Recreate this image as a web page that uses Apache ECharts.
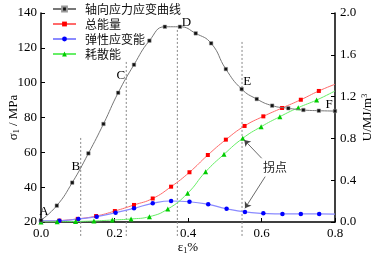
<!DOCTYPE html>
<html>
<head>
<meta charset="utf-8">
<script src="https://cdn.jsdelivr.net/npm/echarts@6/dist/echarts.min.js"></script>
<style>
  html, body { margin: 0; padding: 0; background: #fff; }
  #chart { width: 378px; height: 258px; }
</style>
</head>
<body>
<div id="chart"></div>
<script>
// 轴向应力应变曲线 (左轴, MPa)
const stressStrain = [0, 0.043, 0.085, 0.129, 0.170, 0.210, 0.253, 0.295, 0.337, 0.378, 0.421, 0.463, 0.503, 0.546, 0.587, 0.629, 0.673, 0.714, 0.756, 0.8]
const stressValue = [21, 29.4, 42.6, 59.4, 76.3, 94.2, 110.3, 124.1, 132.1, 132.1, 128.3, 122.6, 107.8, 96.3, 90.6, 86.8, 85.3, 84.3, 83.9, 83.7]

// 总能量 (右轴, MJ/m3)
const totalStrain = [0, 0.05, 0.1, 0.15, 0.201, 0.253, 0.304, 0.354, 0.404, 0.454, 0.503, 0.554, 0.605, 0.656, 0.707, 0.756, 0.8]
const totalValue = [0.006, 0.013, 0.03, 0.057, 0.105, 0.163, 0.225, 0.338, 0.476, 0.641, 0.788, 0.919, 1.011, 1.091, 1.170, 1.254, 1.318]

// 弹性应变能
const elasticStrain = [0, 0.05, 0.1015, 0.1515, 0.203, 0.253, 0.304, 0.354, 0.404, 0.455, 0.505, 0.555, 0.605, 0.657, 0.707, 0.757, 0.8]
const elasticValue = [0.01, 0.012, 0.029, 0.051, 0.089, 0.131, 0.179, 0.201, 0.194, 0.169, 0.127, 0.096, 0.083, 0.077, 0.077, 0.077, 0.076]

// 耗散能
const dissStrain = [0, 0.044, 0.094, 0.144, 0.194, 0.245, 0.295, 0.345, 0.399, 0.448, 0.498, 0.549, 0.599, 0.650, 0.700, 0.750, 0.8]
const dissValue = [0, 0.002, 0.005, 0.01, 0.019, 0.029, 0.051, 0.124, 0.275, 0.481, 0.648, 0.801, 0.912, 1.008, 1.094, 1.167, 1.254]

// 分段虚线 B C D E: [应变, 上端应力]
const stageStrain = [0.108, 0.232, 0.371, 0.547]
const stageTop = [69.4, 113, 131.4, 123.9]

// 点标注
const pointNames = ['A', 'B', 'C', 'D', 'E', 'F']
const pointCoords = [[0.008, 25.7], [0.095, 51.6], [0.217, 103.8], [0.396, 134.4], [0.561, 100.5], [0.784, 87.7]]

const serif = 'Liberation Serif'
const cjk = 'Noto Sans CJK SC'

function pairs(xs, ys, lastNoSymbol) {
  return xs.map((x, i) => {
    if (lastNoSymbol && i === xs.length - 1) return { value: [x, ys[i]], symbol: 'none' }
    return [x, ys[i]]
  })
}

const series = [
  {
    name: '轴向应力应变曲线',
    type: 'line',
    smooth: true,
    data: pairs(stressStrain, stressValue),
    symbol: 'rect',
    symbolSize: 3.5,
    lineStyle: { color: '#777', width: 1 },
    itemStyle: { color: '#111', borderColor: '#999', borderWidth: 0.5 },
    z: 5,
    markPoint: {
      symbol: 'circle',
      symbolSize: 1,
      itemStyle: { color: 'transparent' },
      label: {
        show: true,
        position: 'inside',
        formatter: p => p.name,
        color: '#000',
        fontFamily: serif,
        fontSize: 13
      },
      data: pointNames.map((n, i) => ({ name: n, coord: pointCoords[i] }))
    }
  },
  {
    name: '总能量',
    type: 'line',
    smooth: true,
    yAxisIndex: 1,
    data: pairs(totalStrain, totalValue, true),
    symbol: 'rect',
    symbolSize: 4,
    lineStyle: { color: '#ff6a6a', width: 1 },
    itemStyle: { color: '#ff0000' }
  },
  {
    name: '弹性应变能',
    type: 'line',
    smooth: true,
    yAxisIndex: 1,
    data: pairs(elasticStrain, elasticValue, true),
    symbol: 'circle',
    symbolSize: 4.5,
    lineStyle: { color: '#8a8aff', width: 1.2 },
    itemStyle: { color: '#0000ff' },
    markLine: {
      silent: true,
      symbol: ['none', 'arrow'],
      symbolSize: 6,
      lineStyle: { color: '#444', width: 0.8, type: 'solid' },
      label: { show: false },
      data: [
        [{ coord: [0.6005, 0.61] }, { coord: [0.553, 0.785] }],
        [{ coord: [0.61, 0.434] }, { coord: [0.555, 0.131] }]
      ]
    },
    markPoint: {
      symbol: 'circle',
      symbolSize: 1,
      itemStyle: { color: 'transparent' },
      label: {
        show: true,
        position: 'inside',
        formatter: '拐点',
        color: '#222',
        fontFamily: cjk,
        fontSize: 12
      },
      data: [{ name: '拐点', coord: [0.637, 0.526] }]
    }
  },
  {
    name: '耗散能',
    type: 'line',
    smooth: true,
    yAxisIndex: 1,
    data: pairs(dissStrain, dissValue, true),
    symbol: 'triangle',
    symbolSize: 5,
    lineStyle: { color: '#66ee66', width: 1 },
    itemStyle: { color: '#00cc00' }
  }
]

stageStrain.forEach((x, i) => {
  series.push({
    type: 'line',
    silent: true,
    clip: false,
    symbol: 'none',
    data: [[x, 12], [x, stageTop[i]]],
    lineStyle: { color: '#888', width: 1, type: [2, 2] },
    z: 1
  })
})

const chart = echarts.init(document.getElementById('chart'))
chart.setOption({
  animation: false,
  grid: { left: 41, right: 43, top: 13, bottom: 36, outerBoundsMode: 'none' },
  legend: {
    data: ['轴向应力应变曲线', '总能量', '弹性应变能', '耗散能'],
    orient: 'vertical',
    left: 47,
    top: -2,
    itemWidth: 23,
    itemHeight: 6,
    itemGap: 3,
    textStyle: { fontFamily: cjk, fontSize: 12, color: '#111', padding: [0, 0, 0, 4] }
  },
  xAxis: {
    type: 'value',
    min: 0,
    max: 0.8,
    interval: 0.2,
    name: '{a|ε}{s|1}{a|%}',
    nameLocation: 'middle',
    nameGap: 19,
    nameMoveOverlap: false,
    nameTextStyle: {
      rich: {
        a: { fontFamily: serif, fontSize: 13, color: '#000' },
        s: { fontFamily: serif, fontSize: 8, color: '#000', verticalAlign: 'bottom', padding: [6, 0, 0, 0] }
      }
    },
    axisLine: { lineStyle: { color: '#000', width: 1.5 } },
    axisTick: { inside: true, length: 4, lineStyle: { color: '#000' } },
    axisLabel: { fontFamily: serif, fontSize: 13, color: '#000', margin: 5, formatter: v => v.toFixed(1) },
    splitLine: { show: false }
  },
  yAxis: [
    {
      type: 'value',
      min: 20,
      max: 140,
      interval: 20,
      name: '{a|σ}{s|1}{a| / MPa}',
      nameLocation: 'middle',
      nameGap: 20,
      nameMoveOverlap: false,
      nameTextStyle: {
        rich: {
          a: { fontFamily: serif, fontSize: 13, color: '#000' },
          s: { fontFamily: serif, fontSize: 8, color: '#000', verticalAlign: 'bottom', padding: [6, 0, 0, 0] }
        }
      },
      axisLine: { show: true, lineStyle: { color: '#000', width: 1.5 } },
      axisTick: { inside: true, length: 4, lineStyle: { color: '#000' } },
      axisLabel: { fontFamily: serif, fontSize: 13, color: '#000', margin: 4 },
      splitLine: { show: false }
    },
    {
      type: 'value',
      min: 0,
      max: 2.0,
      interval: 0.4,
      position: 'right',
      name: '{a|U/MJ/m}{p|3}',
      nameLocation: 'middle',
      nameGap: 26,
      nameMoveOverlap: false,
      nameTextStyle: {
        rich: {
          a: { fontFamily: serif, fontSize: 13, color: '#000' },
          p: { fontFamily: serif, fontSize: 8, color: '#000', verticalAlign: 'top', padding: [0, 0, 6, 0] }
        }
      },
      axisLine: { show: true, lineStyle: { color: '#000', width: 1.5 } },
      axisTick: { inside: true, length: 4, lineStyle: { color: '#000' } },
      axisLabel: { fontFamily: serif, fontSize: 13, color: '#000', margin: 5, formatter: v => v.toFixed(1) },
      splitLine: { show: false }
    }
  ],
  series: series
})
</script>
</body>
</html>
